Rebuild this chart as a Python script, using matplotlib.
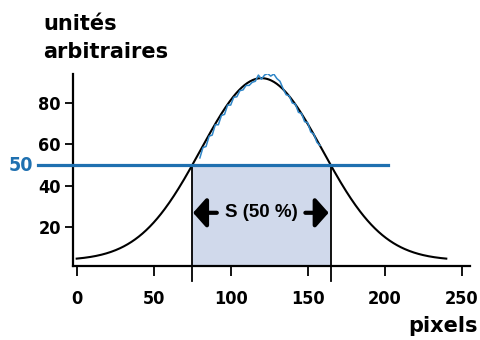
import numpy as np
import matplotlib
matplotlib.use("Agg")
import matplotlib.pyplot as plt
from matplotlib import font_manager

# Gaussian fit (black curve)
fit_center = 120
fit_peak = 92
fit_base = 4
fit_sigma = 39.5
fit_x_range = (0, 240)

# measured profile (blue, noisy)
meas_x = [80, 82, 84, 86, 88, 90, 92, 94, 96, 98, 100, 102, 104, 106, 108, 110,
          112, 114, 116, 118, 120, 122, 124, 126, 128, 130, 132, 134, 136, 138,
          140, 142, 144, 146, 148, 150, 152, 154, 156, 158]
meas_y = [53.5, 58.5, 59.0, 64.0, 64.5, 69.5, 69.5, 74.0, 74.5, 79.0, 79.0, 82.8,
          83.0, 86.0, 86.3, 88.5, 88.5, 90.0, 90.5, 93.5, 91.5, 93.5, 94.2, 93.0,
          94.0, 91.8, 90.5, 87.0, 84.0, 83.5, 80.0, 79.5, 75.5, 75.0, 71.0, 70.5,
          66.0, 65.0, 61.0, 59.5]

half_level = 50
fwhm_left = 75
fwhm_right = 165
half_line_x = (-25, 202)

x_ticks = [0, 50, 100, 150, 200, 250]
y_ticks = [20, 40, 60, 80]

blue = "#1f70b0"
fill_col = "#d0d9eb"

fig = plt.figure(figsize=(4.81, 3.40), dpi=100)
ax = fig.add_axes([0.1524, 0.2176, 0.8247, 0.5647])
ax.set_xlim(-2.2, 255.4)
ax.set_ylim(1.3, 94)

xs = np.linspace(fit_x_range[0], fit_x_range[1], 400)
ys = fit_base + (fit_peak - fit_base) * np.exp(-(xs - fit_center) ** 2 / (2 * fit_sigma ** 2))

# shaded FWHM region
ax.fill_between([fwhm_left, fwhm_right], 1.3, half_level, color=fill_col, lw=0, zorder=1)
ax.plot(xs, ys, color="black", lw=1.5, zorder=3)
ax.plot(meas_x, meas_y, color="#2f86c8", lw=1.1, zorder=4)
ax.plot(half_line_x, [half_level, half_level], color=blue, lw=2.3, zorder=5, clip_on=False)
for xv in (fwhm_left, fwhm_right):
    ax.plot([xv, xv], [-5.7, half_level], color="black", lw=1.3, zorder=4, clip_on=False)

cond = dict(family="DejaVu Sans", stretch="condensed", weight="bold")

ax.text(-36, half_level, "50", color=blue, fontsize=14, ha="center", va="center", **cond)

# S (50 %) with arrows
ax.text(120, 27, "S (50 %)", fontsize=13.5, fontweight="bold",
        family=["Liberation Sans", "DejaVu Sans"], ha="center", va="center")
ap = dict(arrowstyle="-|>,head_length=0.4,head_width=0.45", color="black", lw=3,
          mutation_scale=20, shrinkA=0, shrinkB=0)
ax.annotate("", xy=(fwhm_left + 0.6, 27), xytext=(91, 27), arrowprops=ap)
ax.annotate("", xy=(fwhm_right - 1.4, 27), xytext=(148.5, 27), arrowprops=ap)

for s in ("top", "right"):
    ax.spines[s].set_visible(False)
for s in ("left", "bottom"):
    ax.spines[s].set_linewidth(1.6)

ax.set_xticks(x_ticks)
ax.set_yticks(y_ticks)
ax.tick_params(axis="x", length=7, width=1.3, pad=10)
ax.tick_params(axis="y", length=6, width=1.3, pad=3)
for lab in ax.get_xticklabels() + ax.get_yticklabels():
    lab.set_fontproperties(font_manager.FontProperties(size=13, **cond))

fig.text(0.0894, 1 - 30 / 340, "unités", fontsize=15, fontweight="bold",
         family="DejaVu Sans", ha="left", va="baseline")
fig.text(0.0894, 1 - 58 / 340, "arbitraires", fontsize=15, fontweight="bold",
         family="DejaVu Sans", ha="left", va="baseline")
fig.text(0.994, 1 - 332 / 340, "pixels", fontsize=15, fontweight="bold",
         family="DejaVu Sans", ha="right", va="baseline")

fig.savefig("out.png", dpi=100)
